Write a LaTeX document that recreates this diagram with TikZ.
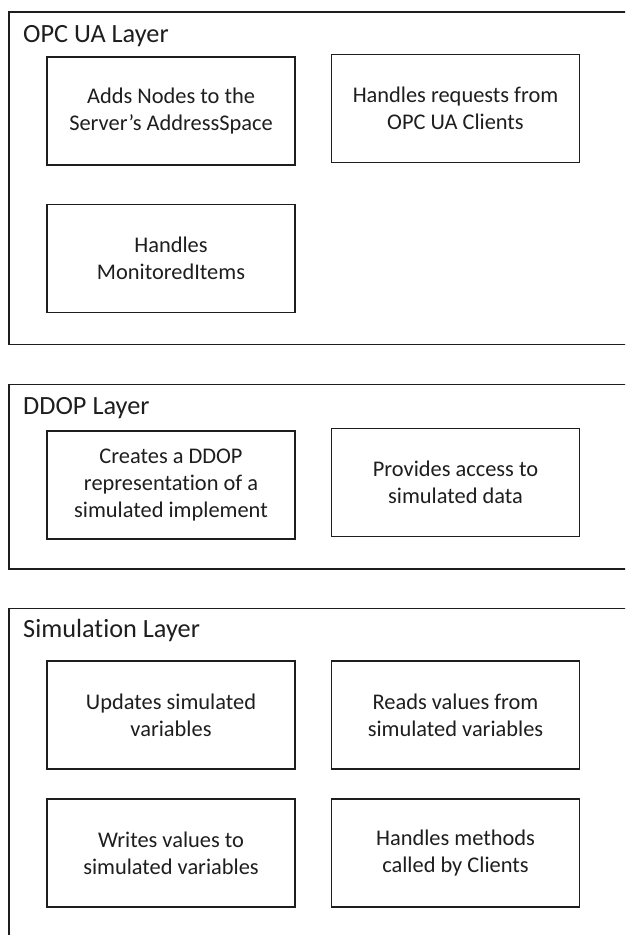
\documentclass[tikz,border=0pt]{standalone}
\usepackage{fontspec}
\setmainfont{Carlito}[Ligatures=NoCommon]
\definecolor{ink}{HTML}{1E1E1E}
\begin{document}
\begin{tikzpicture}[x=1pt,y=-1pt,
  layerbox/.style={draw=ink,line width=1.6pt},
  taskbox/.style={draw=ink,line width=1.6pt,rectangle,minimum width=248pt,minimum height=108pt,
    inner sep=0pt,align=center,text=ink,font=\fontsize{22.4}{26.7}\selectfont},
  layertitle/.style={anchor=base west,inner sep=0pt,text=ink,font=\fontsize{26.3}{30}\selectfont}]
\useasboundingbox (0,0) rectangle (625,935);
\clip (0,0) rectangle (625,935);
\fill[white] (0,0) rectangle (625,935);
% OPC UA layer
\draw[layerbox] (9,12) rectangle (650,344.5);
\node[layertitle] (t1) at (23,42.7) {OPC UA Layer};
\node[taskbox] (a1) at (171,111) {Adds Nodes to the\\Server’s AddressSpace};
\node[taskbox] (a2) at (455.5,108.5) {Handles requests from\\OPC UA Clients};
\node[taskbox] (a3) at (171,258.5) {Handles\\MonitoredItems};
% DDOP layer
\draw[layerbox] (9,384.3) rectangle (650,568.7);
\node[layertitle] (t2) at (23,414) {DDOP Layer};
\node[taskbox] (b1) at (171,485) {Creates a DDOP\\representation of a\\simulated implement};
\node[taskbox] (b2) at (455.5,482.3) {Provides access to\\simulated data};
% Simulation layer
\draw[layerbox] (9,608.3) rectangle (650,970);
\node[layertitle] (t3) at (23,637.3) {Simulation Layer};
\node[taskbox] (c1) at (171,715.2) {Updates simulated\\variables};
\node[taskbox] (c2) at (455.5,715.2) {Reads values from\\simulated variables};
\node[taskbox] (c3) at (171,853.2) {Writes values to\\simulated variables};
\node[taskbox] (c4) at (455.5,853.2) {Handles methods\\called by Clients};
\end{tikzpicture}
\end{document}
